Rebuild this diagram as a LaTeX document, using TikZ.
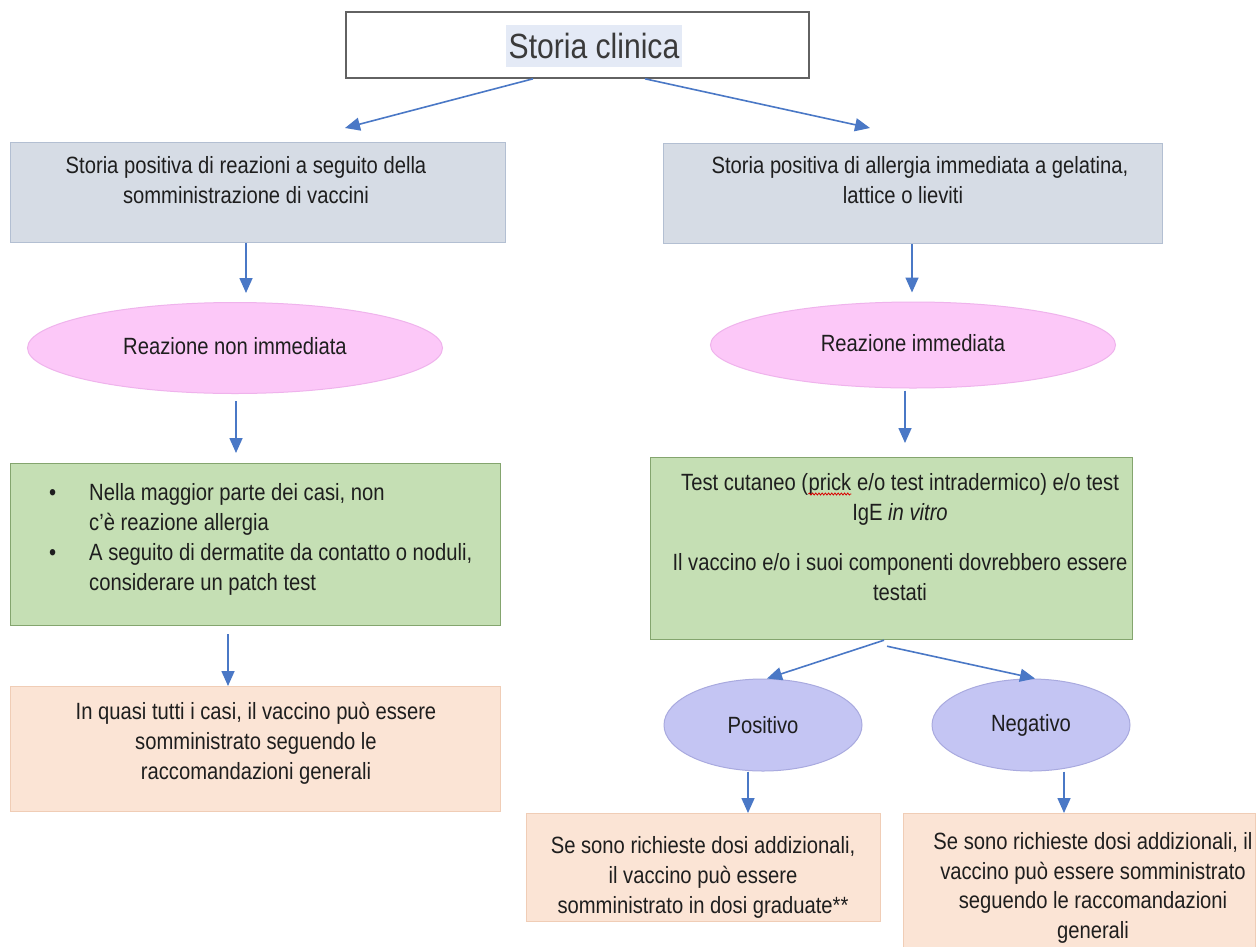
\documentclass[tikz,border=0pt]{standalone}
\usepackage{fontspec}
\setmainfont{Liberation Sans}[FakeStretch=0.86]
\usetikzlibrary{shapes.geometric,arrows.meta,calc,decorations.pathmorphing}
\definecolor{arrc}{HTML}{4A78C6}
\definecolor{txtc}{HTML}{1E1E1E}
\definecolor{ttlc}{HTML}{3A3A3A}
\definecolor{hlc}{HTML}{E4EAF6}
\definecolor{grayf}{HTML}{D6DCE5}
\definecolor{grayd}{HTML}{B3BFD2}
\definecolor{pinkf}{HTML}{FCC8F8}
\definecolor{pinkd}{HTML}{EFB3EC}
\definecolor{greenf}{HTML}{C5DFB4}
\definecolor{greend}{HTML}{84A56E}
\definecolor{salf}{HTML}{FBE4D5}
\definecolor{sald}{HTML}{F0CDB6}
\definecolor{lavf}{HTML}{C4C5F3}
\definecolor{lavd}{HTML}{A9AADF}
\definecolor{boxd}{HTML}{626262}
\begin{document}
\begin{tikzpicture}[x=1pt,y=-1pt,
  txt/.style={font=\fontsize{23.5}{30}\selectfont, text=txtc, inner sep=0pt},
  ctext/.style={txt, align=center},
  rbox/.style={rectangle, inner sep=0pt, anchor=north west},
  graybox/.style={rbox, fill=grayf, draw=grayd, line width=1pt},
  greenbox/.style={rbox, fill=greenf, draw=greend, line width=1.2pt},
  salbox/.style={rbox, fill=salf, draw=sald, line width=1pt},
  pinkell/.style={txt, ellipse, fill=pinkf, draw=pinkd, line width=1pt},
  lavell/.style={txt, ellipse, fill=lavf, draw=lavd, line width=1pt},
  arr/.style={arrc, line width=1.6pt, -{Triangle[length=15pt,width=13pt]}},
  wavy/.style={draw=red!85!black, line width=0.8pt, decorate, decoration={snake, amplitude=1pt, segment length=3.2pt}}
]
\fill[white] (0,0) rectangle (1260,946);
\useasboundingbox (0,0) rectangle (1260,946);

% title
\node[rbox, draw=boxd, line width=1.8pt, fill=white, minimum width=463, minimum height=66] (title) at (345,11) {};
\node[font=\fontsize{35}{40}\selectfont, text=ttlc, fill=hlc, inner xsep=3pt, inner ysep=0pt, minimum height=42pt] (ttext) at (594,46) {Storia clinica};

% first row boxes
\node[graybox, minimum width=495, minimum height=100] (l1) at (10,142) {};
\node[ctext] (l1t) at (246,182) {\strut Storia positiva di reazioni a seguito della\\\strut somministrazione di vaccini};
\node[graybox, minimum width=499, minimum height=100] (r1) at (663,143) {};
\node[ctext] (r1t) at (920,182) {\strut Storia positiva di allergia immediata a gelatina,\\\strut lattice o lieviti\hspace*{34pt}};

% ellipses
\node[pinkell, minimum width=415, minimum height=91] (le) at (235,348) {\raisebox{4pt}{Reazione non immediata}};
\node[pinkell, minimum width=405, minimum height=86] (re) at (913,345) {\raisebox{4pt}{Reazione immediata}};

% green boxes
\node[greenbox, minimum width=490, minimum height=162] (lg) at (10,463) {};
\node[txt, align=left, anchor=west] (lgt) at (49,539) {\strut\makebox[40pt][l]{\textbullet}Nella maggior parte dei casi, non\\\strut\hspace*{40pt}c’è reazione allergia\\\strut\makebox[40pt][l]{\textbullet}A seguito di dermatite da contatto o noduli,\\\strut\hspace*{40pt}considerare un patch test};

\node[greenbox, minimum width=482, minimum height=182] (rg) at (650,457) {};
\node[txt, anchor=base west] (rga) at (681,490.5) {Test cutaneo (};
\node[txt, anchor=base west] (rgb) at (rga.base east) {prick};
\node[txt, anchor=base west] (rgc) at (rgb.base east) {\ e/o test intradermico) e/o test};
\draw[wavy] ($(rgb.base west)+(0,3.5)$) -- ($(rgb.base east)+(0,3.5)$);
\node[ctext] (rgt) at (900,554) {\strut IgE \textit{in vitro}\\[20pt]\strut Il vaccino e/o i suoi componenti dovrebbero essere\\\strut testati};

% left result
\node[salbox, minimum width=490, minimum height=125] (ls) at (10,686) {};
\node[ctext] (lst) at (256,743) {\strut In quasi tutti i casi, il vaccino può essere\\\strut somministrato seguendo le\\\strut raccomandazioni generali};

% positive / negative
\node[lavell, minimum width=198, minimum height=92] (pos) at (763,725) {Positivo};
\node[lavell, minimum width=198, minimum height=92] (neg) at (1031,725) {Negativo};
\node[salbox, minimum width=354, minimum height=108] (pb) at (526,813) {};
\node[ctext] (pbt) at (703,877) {\strut Se sono richieste dosi addizionali,\\\strut il vaccino può essere\\\strut somministrato in dosi graduate**};
\node[salbox, minimum width=352, minimum height=140] (nb) at (903,813) {};
\node[ctext, font=\fontsize{23.5}{29.5}\selectfont] (nbt) at (1093,888) {\strut Se sono richieste dosi addizionali, il\\\strut vaccino può essere somministrato\\\strut seguendo le raccomandazioni\\\strut generali};

% connectors
\draw[arr] (title.south -| 533,0) -- ($(l1.north -| 345,0)+(0,-14)$);
\draw[arr] (title.south -| 645,0) -- ($(r1.north -| 870,0)+(0,-15)$);
\draw[arr] (l1.south -| 246,0) -- ($(le.north -| 246,0)+(0,-9)$);
\draw[arr] (r1.south -| 912,0) -- ($(re.north -| 912,0)+(0,-9)$);
\draw[arr] ($(le.south -| 236,0)+(0,7)$) -- ($(lg.north -| 236,0)+(0,-10)$);
\draw[arr] ($(re.south -| 905,0)+(0,2)$) -- ($(rg.north -| 905,0)+(0,-14)$);
\draw[arr] ($(lg.south -| 228,0)+(0,8)$) -- (ls.north -| 228,0);
\draw[arr] (rg.south -| 884,0) -- (pos.north -| 767,0);
\draw[arr] ($(rg.south -| 887,0)+(0,6)$) -- (neg.north -| 1035,0);
\draw[arr] (pos.south -| 748,0) -- (pb.north -| 748,0);
\draw[arr] (neg.south -| 1064,0) -- (nb.north -| 1064,0);
\end{tikzpicture}
\end{document}
